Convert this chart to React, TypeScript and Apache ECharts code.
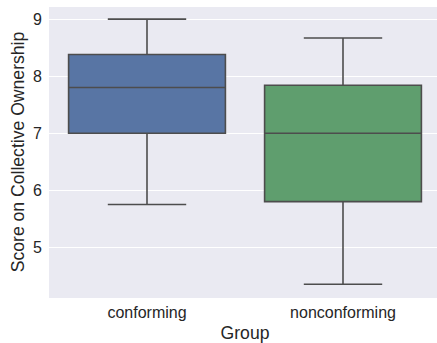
import React, { useEffect, useRef } from "react";
import * as echarts from "echarts";

// Group labels and five-number summaries per group
const categories = ["conforming", "nonconforming"];
const lowWhisker = [5.75, 4.35];
const lowerQuartile = [7.0, 5.8];
const median = [7.8, 7.0];
const upperQuartile = [8.38, 7.84];
const highWhisker = [9.0, 8.67];
const boxColors = ["#5875A4", "#5F9E6E"];

const LINE = "#4D4D4D";
const TEXT = "#262626";
const FONT = "'Liberation Sans', Arial, sans-serif";

export default function App() {
  const ref = useRef<HTMLDivElement>(null);

  useEffect(() => {
    if (!ref.current) return;
    const chart = echarts.init(ref.current, undefined, { renderer: "svg" });

    const data = categories.map((_, i) => [
      i,
      lowWhisker[i],
      lowerQuartile[i],
      median[i],
      upperQuartile[i],
      highWhisker[i],
    ]);

    chart.setOption({
      animation: false,
      backgroundColor: "#FFFFFF",
      grid: {
        left: 49,
        top: 6,
        width: 392,
        height: 292,
        show: true,
        backgroundColor: "#EAEAF2",
        borderWidth: 0,
        outerBoundsMode: "none",
        containLabel: false,
      },
      xAxis: {
        type: "category",
        data: categories,
        boundaryGap: true,
        axisLine: { show: false },
        axisTick: { show: false },
        splitLine: { show: false },
        axisLabel: { color: TEXT, fontSize: 16, fontFamily: FONT, margin: 6 },
        name: "Group",
        nameLocation: "middle",
        nameGap: 25.5,
        nameMoveOverlap: false,
        nameTextStyle: { color: TEXT, fontSize: 17.6, fontFamily: FONT },
      },
      yAxis: {
        type: "value",
        min: 4.11,
        max: 9.23,
        splitNumber: 5,
        axisLine: { show: false },
        axisTick: { show: false },
        splitLine: { show: true, lineStyle: { color: "#FFFFFF", width: 1.2 } },
        axisLabel: {
          color: TEXT,
          fontSize: 16,
          fontFamily: FONT,
          margin: 7,
          showMinLabel: false,
          showMaxLabel: false,
          formatter: (v: number) =>
            Math.abs(v - Math.round(v)) < 1e-6 ? String(Math.round(v)) : "",
        },
        name: "Score on Collective Ownership",
        nameLocation: "middle",
        nameGap: 22,
        nameMoveOverlap: false,
        nameTextStyle: { color: TEXT, fontSize: 17.6, fontFamily: FONT },
      },
      series: [
        {
          type: "custom",
          data,
          encode: { x: 0, y: [1, 2, 3, 4, 5] },
          renderItem: (params: any, api: any) => {
            const idx = api.value(0);
            const cw = api.size([1, 0])[0];
            const bw = cw * 0.8;
            const cap = bw / 2;
            const lo = api.coord([idx, api.value(1)]);
            const q1 = api.coord([idx, api.value(2)]);
            const md = api.coord([idx, api.value(3)]);
            const q3 = api.coord([idx, api.value(4)]);
            const hi = api.coord([idx, api.value(5)]);
            const cx = lo[0];
            const ls = { stroke: LINE, lineWidth: 1.6 };
            return {
              type: "group",
              children: [
                { type: "line", shape: { x1: cx, y1: q1[1], x2: cx, y2: lo[1] }, style: ls },
                { type: "line", shape: { x1: cx, y1: q3[1], x2: cx, y2: hi[1] }, style: ls },
                { type: "line", shape: { x1: cx - cap / 2, y1: lo[1], x2: cx + cap / 2, y2: lo[1] }, style: ls },
                { type: "line", shape: { x1: cx - cap / 2, y1: hi[1], x2: cx + cap / 2, y2: hi[1] }, style: ls },
                {
                  type: "rect",
                  shape: { x: cx - bw / 2, y: q3[1], width: bw, height: q1[1] - q3[1] },
                  style: { fill: boxColors[idx], stroke: LINE, lineWidth: 1.6 },
                },
                { type: "line", shape: { x1: cx - bw / 2, y1: md[1], x2: cx + bw / 2, y2: md[1] }, style: ls },
              ],
            };
          },
        },
      ],
    });

    return () => chart.dispose();
  }, []);

  return (
    <div
      ref={ref}
      style={{ position: "fixed", left: 0, top: 0, width: 437, height: 343 }}
    />
  );
}
